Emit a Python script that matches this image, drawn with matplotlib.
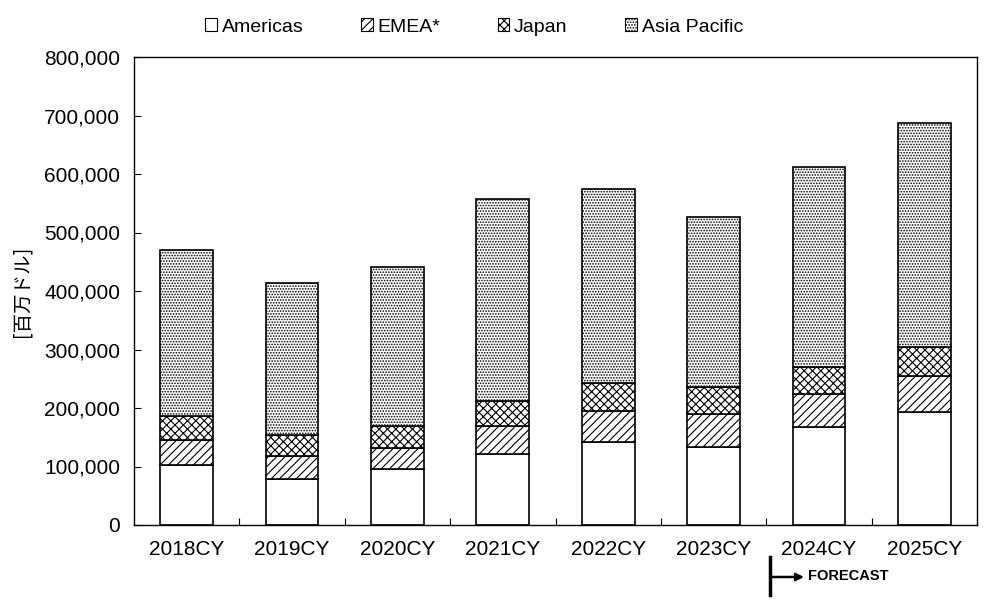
import matplotlib
matplotlib.use("Agg")
import matplotlib.pyplot as plt
from matplotlib.patches import Rectangle
from matplotlib.lines import Line2D
from matplotlib.ticker import FuncFormatter
import numpy as np

categories = ["2018CY", "2019CY", "2020CY", "2021CY", "2022CY", "2023CY", "2024CY", "2025CY"]
americas = [102600, 78600, 95200, 121400, 141300, 133900, 167500, 193000]
emea = [42700, 38800, 36800, 47300, 53600, 55800, 56500, 61000]
japan = [40500, 36400, 37000, 43800, 47100, 46700, 46000, 50000]
asia_pacific = [283800, 259900, 272000, 344500, 332000, 290100, 342000, 383700]
series_names = ["Americas", "EMEA*", "Japan", "Asia Pacific"]
y_label = "[百万ドル]"

plt.rcParams['font.family'] = ['Liberation Sans', 'Noto Sans CJK JP', 'DejaVu Sans']
plt.rcParams['hatch.linewidth'] = 0.8
plt.rcParams['hatch.color'] = 'black'

fig = plt.figure(figsize=(9.97, 6.14), dpi=100)
ax = fig.add_axes([134/997, 1-525/614, (977-134)/997, (525-57)/614])

x = np.arange(len(categories))
series = [americas, emea, japan, asia_pacific]
hatches = [None, '////', 'xxxx', '......']
bottom = np.zeros(len(categories))
for vals, h, name in zip(series, hatches, series_names):
    ax.bar(x, vals, width=0.5, bottom=bottom, color='white', edgecolor='black',
           linewidth=1.2, hatch=h, label=name, zorder=2)
    bottom += np.array(vals)

ax.set_xlim(-0.5, len(categories)-0.5)
ax.set_ylim(0, 800000)
ax.set_yticks(np.arange(0, 800001, 100000))
ax.yaxis.set_major_formatter(FuncFormatter(lambda v, p: f"{int(v):,}"))
ax.tick_params(axis='y', direction='in', length=5, width=0.8, labelsize=15, pad=10)
ax.set_xticks(x)
ax.set_xticklabels(categories)
ax.tick_params(axis='x', which='major', length=0, labelsize=15, pad=11)
ax.set_xticks(np.arange(0.5, len(categories)-1, 1.0), minor=True)
ax.tick_params(axis='x', which='minor', direction='in', length=5, width=0.8)
for s in ax.spines.values():
    s.set_linewidth(1.0)

fig.text(22/997, 1-291/614, y_label, rotation=90, ha='center', va='center',
         fontsize=14, family=['Noto Sans CJK JP', 'DejaVu Sans'])

handles = [Rectangle((0, 0), 1, 1, facecolor='white', edgecolor='black', linewidth=0.8, hatch=h)
           for h in hatches]
fig.legend(handles, series_names, loc='center', bbox_to_anchor=(474/997, 1-27/614),
           ncol=4, frameon=False, fontsize=14, handlelength=0.6, handleheight=0.6,
           handletextpad=0.25, columnspacing=2.95)

# Forecast marker
fig.add_artist(Line2D([770/997, 770/997], [1-557/614, 1-595/614], transform=fig.transFigure,
                      color='black', linewidth=2.5))
ax.annotate('', xy=(804/997, 1-577/614), xytext=(770/997, 1-577/614),
            xycoords='figure fraction', textcoords='figure fraction',
            arrowprops=dict(arrowstyle='-|>', color='black', lw=1.8, mutation_scale=11,
                            shrinkA=0, shrinkB=0))
fig.text(808/997, 1-576/614, "FORECAST", fontsize=10.5, fontweight='bold', ha='left', va='center')

fig.savefig("out.png", dpi=100)
